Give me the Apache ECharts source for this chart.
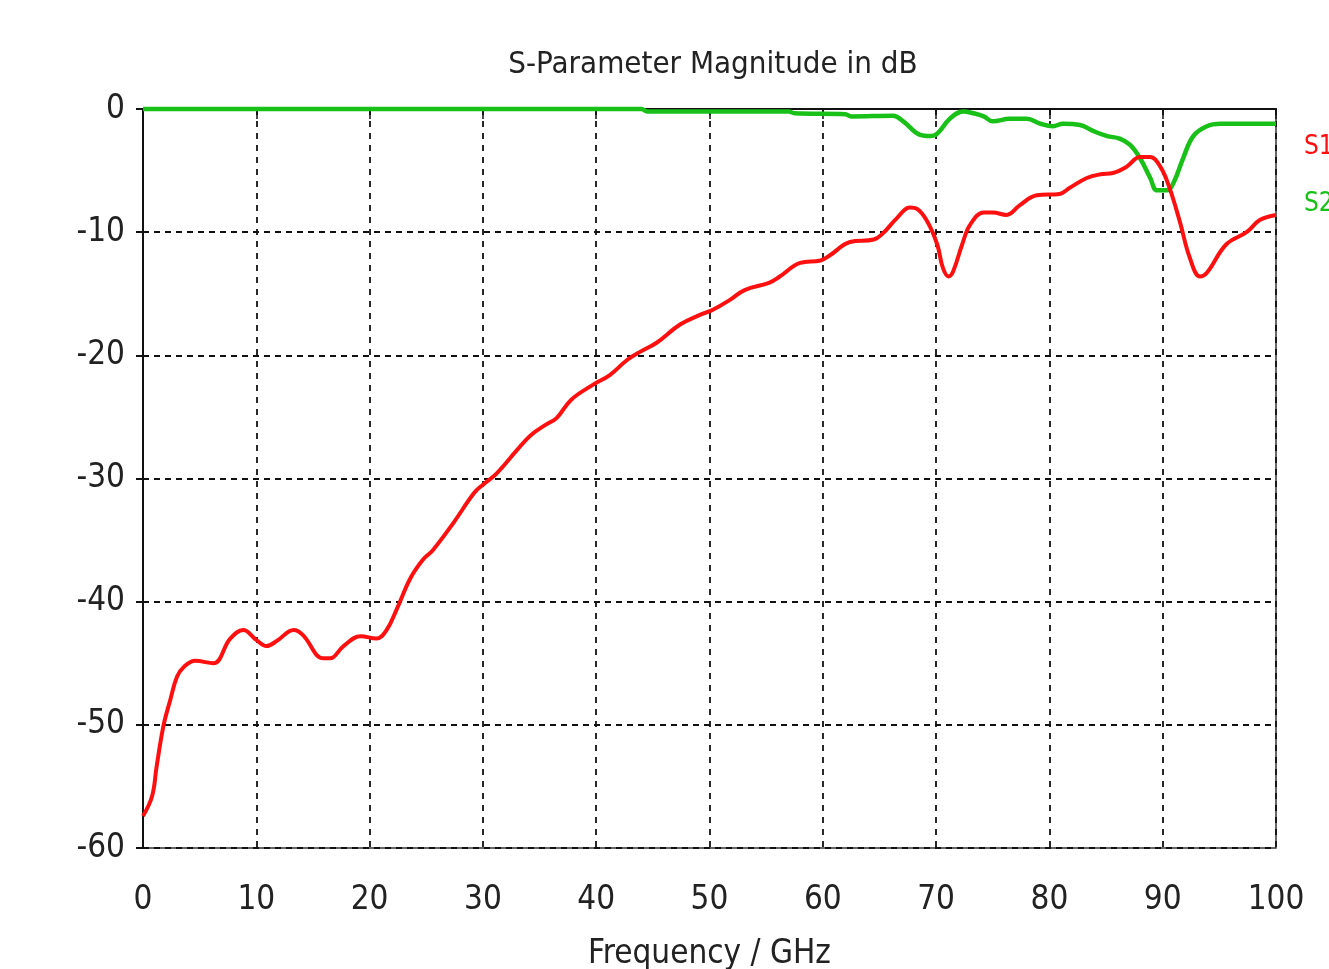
<!DOCTYPE html>
<html><head><meta charset="utf-8">
<script src="https://cdn.jsdelivr.net/npm/echarts@6/dist/echarts.min.js"></script>
<style>html,body{margin:0;padding:0;background:#fff}#c{width:1329px;height:969px}</style>
</head><body><div id="c"></div>
<script>
var xTicks = [0,10,20,30,40,50,60,70,80,90,100];
var yTicks = [0,-10,-20,-30,-40,-50,-60];
var s1Freq = [0,0.8,1.2,1.8,2.4,3.0,3.6,4.6,6.2,7.7,8.85,10.0,10.9,11.8,13.3,14.1,15.9,16.5,17.7,19.2,20.6,21.5,22.4,23.6,24.7,25.6,27.4,29.2,30.0,31.2,33.0,34.2,35.6,36.5,37.8,39.7,41.2,42.7,43.9,45.3,47.4,49.2,50.3,51.8,53.1,55.3,56.2,58.0,59.8,60.6,62.4,64.5,65.3,66.5,67.7,68.3,69.2,70.1,70.6,71.1,71.5,72.3,73.0,74.2,75.0,76.2,77.4,78.9,80.9,81.8,83.3,84.5,85.6,86.8,88.0,88.9,89.8,90.6,91.5,92.4,93.3,93.9,95.6,97.4,98.6,100];
var s1Val = [-57.4,-55.8,-53.4,-50.1,-48.0,-46.1,-45.3,-44.8,-45.0,-43.0,-42.3,-43.1,-43.6,-43.2,-42.3,-42.7,-44.6,-44.6,-43.6,-42.8,-43.0,-42.3,-40.6,-38.1,-36.6,-35.8,-33.6,-31.2,-30.5,-29.6,-27.7,-26.5,-25.6,-25.1,-23.6,-22.4,-21.6,-20.4,-19.7,-19.0,-17.5,-16.7,-16.3,-15.5,-14.7,-14.1,-13.6,-12.5,-12.3,-11.9,-10.8,-10.6,-10.1,-8.9,-8.0,-8.1,-9.1,-11.0,-12.9,-13.6,-13.2,-11.0,-9.4,-8.4,-8.4,-8.6,-7.8,-7.0,-6.9,-6.4,-5.6,-5.3,-5.2,-4.7,-3.9,-3.9,-4.7,-6.4,-9.1,-12.1,-13.6,-13.3,-11.0,-10.0,-9.0,-8.6];
var s2Freq = [0,44,44.5,57,57.5,62,62.5,66.2,67.1,68.6,69.5,70.1,71.2,72.4,73.3,74.2,75.0,76.5,78.0,79.2,80.3,81.2,82.7,83.9,85.1,86.2,87.1,88.0,88.9,89.5,90.4,91.0,91.8,92.7,93.9,95.1,100];
var s2Val = [0,0,-0.2,-0.2,-0.35,-0.43,-0.6,-0.55,-1.0,-2.1,-2.2,-2.0,-0.8,-0.2,-0.35,-0.6,-1.0,-0.8,-0.8,-1.2,-1.4,-1.2,-1.3,-1.8,-2.2,-2.4,-2.9,-4.0,-5.6,-6.6,-6.6,-5.9,-4.0,-2.2,-1.4,-1.2,-1.2];

function pairs(a,b){return a.map(function(v,i){return [v,b[i]];});}
var FONT = '"Liberation Sans Narrow","DejaVu Sans Condensed","Liberation Sans",sans-serif';
var chart = echarts.init(document.getElementById('c'));
chart.setOption({
  animation:false,
  backgroundColor:'#fff',
  title:{text:'S-Parameter Magnitude in dB',left:708,top:44,textAlign:'center',
    textStyle:{fontFamily:FONT,fontSize:31,fontWeight:'normal',color:'#222'}},
  legend:{orient:'vertical',left:1299,top:134,padding:0,itemWidth:0,itemHeight:0,itemGap:31,icon:'rect',
    selectedMode:false,
    textStyle:{fontFamily:FONT,fontSize:26,padding:0,width:40,overflow:'none'},
    data:[{name:'S1',textStyle:{color:'#ff1010'}},{name:'S2',textStyle:{color:'#18c018'}}]},
  grid:{left:143,right:53,top:109,bottom:121,outerBoundsMode:'none',containLabel:false,show:true,borderColor:'#333',borderWidth:1.5,backgroundColor:'transparent'},
  xAxis:{type:'value',min:0,max:100,interval:10,
    name:'Frequency / GHz',nameLocation:'middle',nameGap:90,
    nameTextStyle:{fontFamily:FONT,fontSize:33,color:'#222'},
    axisLine:{show:true,lineStyle:{color:'#111',width:2}},
    axisTick:{show:true,length:10,lineStyle:{color:'#111',width:1.5}},
    axisLabel:{fontFamily:FONT,fontSize:33,color:'#222',margin:36},
    splitLine:{show:true,lineStyle:{color:'#111',width:1.8,type:[6,6]}}},
  yAxis:{type:'value',min:-60,max:0,interval:10,
    axisLine:{show:true,lineStyle:{color:'#111',width:2}},
    axisTick:{show:true,length:7,lineStyle:{color:'#111',width:2}},
    axisLabel:{fontFamily:FONT,fontSize:33,color:'#222',margin:18},
    splitLine:{show:true,lineStyle:{color:'#111',width:1.8,type:[6,5]}}},
  series:[
    {name:'S1',type:'line',data:pairs(s1Freq,s1Val),showSymbol:false,smooth:0.4,clip:false,
      lineStyle:{color:'#ff1010',width:4},itemStyle:{color:'#ff1010'},z:3},
    {name:'S2',type:'line',data:pairs(s2Freq,s2Val),showSymbol:false,smooth:0.4,clip:false,
      lineStyle:{color:'#18c018',width:4.5},itemStyle:{color:'#18c018'},z:2}
  ]
});
</script></body></html>
